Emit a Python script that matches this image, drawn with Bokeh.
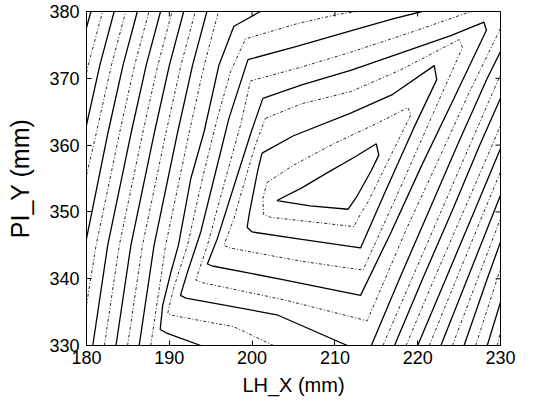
import math
from bokeh.plotting import figure
from bokeh.models import Range1d, FixedTicker, ColumnDataSource
from bokeh.embed import file_html
from bokeh.resources import INLINE

# ---- axis values ----
x_ticks = [180, 190, 200, 210, 220, 230]
y_ticks = [330, 340, 350, 360, 370, 380]
x_label = "LH_X (mm)"
y_label = "PI_Y (mm)"

# ---- contour lines (x in mm, y in mm) ----
# odd levels drawn solid, even levels dotted; level 1 is the innermost
c01_x = [203.0, 206.0, 209.0, 212.5, 215.0, 215.3, 214.4, 212.6, 211.6, 207.0, 203.0]
c01_y = [351.7, 353.6, 355.8, 358.3, 360.2, 358.5, 356.2, 352.2, 350.4, 350.9, 351.7]

c02_x = [201.8, 205.0, 210.0, 215.0, 218.8, 219.2, 216.3, 214.0, 213.1, 212.3, 206.5, 202.2, 201.4, 201.3, 201.8]
c02_y = [354.4, 357.0, 360.3, 363.2, 365.6, 364.6, 357.3, 351.5, 349.7, 347.8, 348.6, 349.2, 349.6, 352.0, 354.4]

c03_x = [201.2, 205.0, 211.9, 217.0, 222.0, 222.3, 219.5, 216.0, 213.1, 206.0, 200.0, 199.4, 199.7, 200.1, 200.7, 201.2]
c03_y = [358.8, 361.4, 364.8, 367.6, 371.9, 369.8, 362.5, 352.8, 344.6, 345.9, 347.0, 347.7, 350.0, 352.5, 356.3, 358.8]

c04_x = [201.6, 206.0, 211.9, 218.0, 225.0, 225.4, 221.6, 217.5, 213.4, 206.0, 197.3, 196.6, 197.8, 199.2, 200.4, 201.6]
c04_y = [364.0, 366.2, 368.0, 371.3, 375.8, 374.6, 364.0, 352.5, 341.3, 342.6, 344.6, 345.0, 349.0, 355.0, 360.0, 364.0]

c05_x = [201.3, 206.0, 211.9, 218.0, 224.0, 228.0, 228.3, 224.3, 220.5, 216.8, 213.1, 204.0, 195.2, 194.6, 195.8, 198.1, 199.9, 201.3]
c05_y = [367.0, 369.0, 371.2, 373.8, 376.4, 378.4, 377.2, 366.8, 357.0, 347.0, 337.5, 339.8, 341.9, 342.2, 346.0, 355.0, 362.0, 367.0]

c06_x = [230.0, 226.0, 222.4, 218.7, 213.9, 204.0, 194.0, 193.2, 194.6, 196.8, 198.6, 199.8, 206.0, 211.9, 219.0, 225.5, 226.6]
c06_y = [377.5, 367.3, 357.5, 347.6, 333.7, 336.8, 339.4, 339.8, 345.0, 355.0, 363.0, 369.6, 371.7, 373.9, 376.8, 379.6, 380.0]

c07a_x = [211.5, 203.0, 192.0, 191.35, 192.2, 193.8, 195.4, 197.2, 199.5, 205.5, 211.9, 217.0, 220.5]
c07a_y = [330.0, 334.6, 337.1, 337.5, 341.0, 347.0, 355.0, 364.0, 372.8, 374.8, 377.1, 378.9, 380.0]
c07b_x = [214.4, 217.8, 221.3, 224.8, 228.4, 230.0]
c07b_y = [330.0, 340.0, 350.0, 360.0, 370.0, 374.0]

c08a_x = [202.6, 197.8, 190.4, 189.8, 190.5, 192.2, 194.0, 195.8, 197.4, 199.2, 205.5, 210.5, 212.8]
c08a_y = [330.0, 332.8, 334.5, 334.8, 338.5, 345.0, 355.0, 364.0, 371.0, 375.9, 378.2, 379.6, 380.0]
c08b_x = [215.8, 219.3, 222.8, 226.3, 229.8, 230.0]
c08b_y = [330.0, 340.0, 350.0, 360.0, 370.0, 370.5]

c09a_x = [193.8, 189.6, 188.9, 189.2, 190.2, 191.1, 192.6, 194.2, 196.0, 197.8, 201.0]
c09a_y = [330.0, 331.9, 332.4, 336.0, 341.0, 345.0, 355.0, 362.0, 372.0, 377.8, 380.0]
c09b_x = [217.2, 220.6, 224.1, 227.5, 230.0]
c09b_y = [330.0, 340.0, 350.0, 360.0, 367.0]

# left-hand family (bottom or left edge -> top edge)
c10l_x = [187.76, 189.56, 192.42, 194.22, 195.94]
c10l_y = [330.0, 345.0, 362.0, 372.0, 380.0]
c11l_x = [186.36, 188.16, 191.02, 192.82, 194.54]
c11l_y = [330.0, 345.0, 362.0, 372.0, 380.0]
c12l_x = [184.96, 186.76, 189.62, 191.42, 193.14]
c12l_y = [330.0, 345.0, 362.0, 372.0, 380.0]
c13l_x = [183.56, 185.36, 188.22, 190.02, 191.74]
c13l_y = [330.0, 345.0, 362.0, 372.0, 380.0]
c14l_x = [182.16, 183.96, 186.82, 188.62, 190.34]
c14l_y = [330.0, 345.0, 362.0, 372.0, 380.0]
c15l_x = [180.76, 182.56, 185.42, 187.22, 188.94]
c15l_y = [330.0, 345.0, 362.0, 372.0, 380.0]
c16l_x = [180.0, 181.16, 184.02, 185.82, 187.54]
c16l_y = [336.1, 345.0, 362.0, 372.0, 380.0]
c17l_x = [180.0, 182.62, 184.42, 186.14]
c17l_y = [346.0, 362.0, 372.0, 380.0]
c18l_x = [180.0, 181.22, 183.02, 184.74]
c18l_y = [355.5, 362.0, 372.0, 380.0]
c19l_x = [180.0, 181.62, 183.34]
c19l_y = [363.0, 372.0, 380.0]
c20l_x = [180.0, 180.22, 181.94]
c20l_y = [370.8, 372.0, 380.0]
c21l_x = [180.0, 180.54]
c21l_y = [377.6, 380.0]

# right-hand family (bottom edge -> right edge)
c10r_x = [218.6, 222.0, 225.5, 229.0, 230.0]
c10r_y = [330.0, 340.0, 350.0, 360.0, 363.0]
c11r_x = [220.0, 223.4, 226.8, 230.0]
c11r_y = [330.0, 340.0, 350.0, 359.5]
c12r_x = [221.4, 224.7, 228.0, 230.0]
c12r_y = [330.0, 340.0, 350.0, 356.0]
c13r_x = [222.8, 226.0, 229.2, 230.0]
c13r_y = [330.0, 340.0, 350.0, 352.5]
c14r_x = [224.2, 227.25, 230.0]
c14r_y = [330.0, 340.0, 349.0]
c15r_x = [225.6, 228.4, 230.0]
c15r_y = [330.0, 340.0, 345.5]
c16r_x = [227.0, 229.6, 230.0]
c16r_y = [330.0, 340.0, 341.5]
c17r_x = [228.4, 230.0]
c17r_y = [330.0, 336.5]
c18r_x = [229.6, 230.0]
c18r_y = [330.0, 332.0]

solid_pieces = [
    (c01_x, c01_y), (c03_x, c03_y), (c05_x, c05_y),
    (c07a_x, c07a_y), (c07b_x, c07b_y), (c09a_x, c09a_y), (c09b_x, c09b_y),
    (c11l_x, c11l_y), (c11r_x, c11r_y), (c13l_x, c13l_y), (c13r_x, c13r_y),
    (c15l_x, c15l_y), (c15r_x, c15r_y), (c17l_x, c17l_y), (c17r_x, c17r_y),
    (c19l_x, c19l_y), (c21l_x, c21l_y),
]
dotted_pieces = [
    (c02_x, c02_y), (c04_x, c04_y), (c06_x, c06_y),
    (c08a_x, c08a_y), (c08b_x, c08b_y),
    (c10l_x, c10l_y), (c10r_x, c10r_y), (c12l_x, c12l_y), (c12r_x, c12r_y),
    (c14l_x, c14l_y), (c14r_x, c14r_y), (c16l_x, c16l_y), (c16r_x, c16r_y),
    (c18l_x, c18l_y), (c18r_x, c18r_y), (c20l_x, c20l_y),
]

FONT = "Liberation Sans"

p = figure(width=540, height=400,
           x_range=Range1d(x_ticks[0], x_ticks[-1]),
           y_range=Range1d(y_ticks[0], y_ticks[-1]),
           output_backend="svg", toolbar_location=None,
           min_border_left=86, min_border_right=40,
           min_border_top=11, min_border_bottom=55)
p.grid.visible = False
p.background_fill_color = "white"
p.border_fill_color = "white"
p.outline_line_color = "black"
p.outline_line_width = 1

solid_src = ColumnDataSource(dict(xs=[a for a, b in solid_pieces],
                                  ys=[b for a, b in solid_pieces]))
dotted_src = ColumnDataSource(dict(xs=[a for a, b in dotted_pieces],
                                   ys=[b for a, b in dotted_pieces]))
p.multi_line(xs="xs", ys="ys", source=dotted_src, line_color="#2a2a2a",
             line_width=1.0, line_dash="3 2 1 2")
p.multi_line(xs="xs", ys="ys", source=solid_src, line_color="black",
             line_width=1.3)


def style_axis(ax, ticks):
    ax.ticker = FixedTicker(ticks=ticks)
    ax.major_tick_in = 5
    ax.major_tick_out = 0
    ax.minor_tick_in = 0
    ax.minor_tick_out = 0
    ax.axis_line_color = "black"
    ax.major_tick_line_color = "black"
    ax.major_label_text_font = FONT
    ax.major_label_text_font_size = "18px"
    ax.major_label_text_color = "black"
    ax.axis_label_text_font = FONT
    ax.axis_label_text_font_style = "normal"
    ax.axis_label_text_color = "black"


xa = p.xaxis[0]
style_axis(xa, x_ticks)
xa.major_label_standoff = 5
xa.axis_label = x_label
xa.axis_label_text_font_size = "20px"
xa.axis_label_standoff = 7

ya = p.yaxis[0]
style_axis(ya, y_ticks)
ya.major_label_standoff = 7
ya.axis_label = y_label
ya.axis_label_text_font_size = "25px"
ya.axis_label_standoff = 12

# mirrored inward ticks on the top and right edges of the frame
p.ray(x=x_ticks, y=[y_ticks[-1]] * len(x_ticks), length=5, length_units="screen",
      angle=-math.pi / 2, line_color="black", line_width=1)
p.ray(x=[x_ticks[-1]] * len(y_ticks), y=y_ticks, length=5, length_units="screen",
      angle=math.pi, line_color="black", line_width=1)

open("out.html", "w").write(file_html(p, INLINE))
